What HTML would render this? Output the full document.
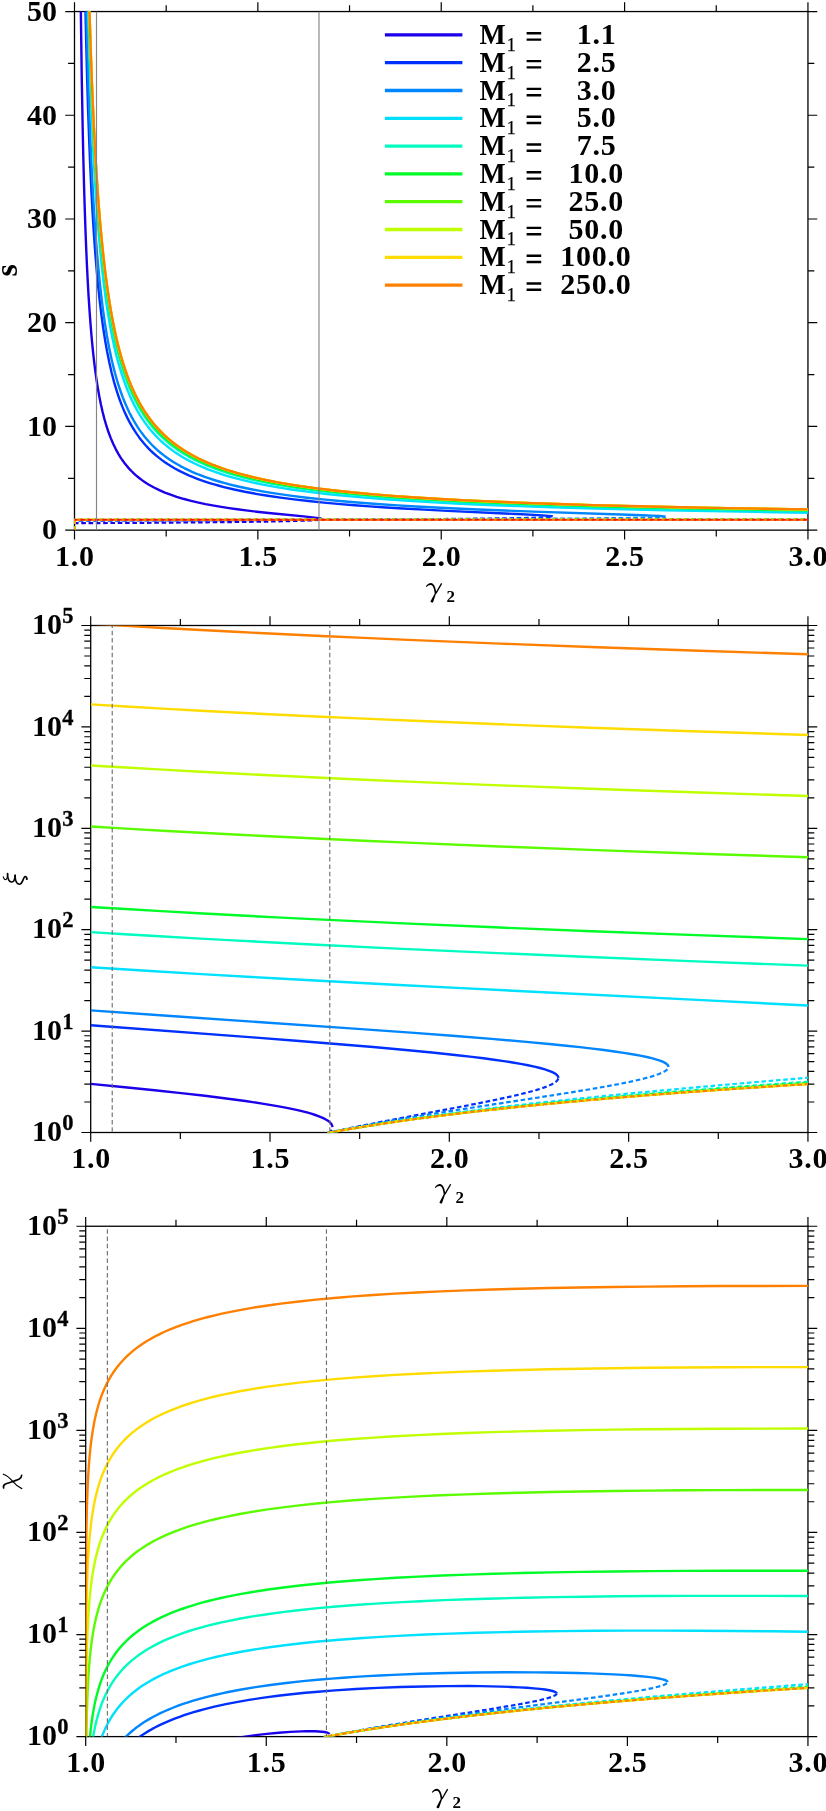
<!DOCTYPE html>
<html><head><meta charset="utf-8"><title>Shock jump conditions</title>
<style>html,body{margin:0;padding:0;background:#fff}svg{display:block;will-change:transform}text{white-space:pre}</style></head>
<body>
<svg width="826" height="1811" viewBox="0 0 826 1811">
<rect width="826" height="1811" fill="#fff"/>
<defs>
<clipPath id="c1"><rect x="74.5" y="11.55" width="733.45" height="518.6"/></clipPath>
<clipPath id="c2"><rect x="90.7" y="625.5" width="717.25" height="507"/></clipPath>
<clipPath id="c3"><rect x="85.7" y="1226.25" width="722.25" height="510.35"/></clipPath>
</defs>
<rect x="74.5" y="11.55" width="733.45" height="518.6" fill="none" stroke="#000" stroke-width="1.3"/>
<rect x="90.7" y="625.5" width="717.25" height="507" fill="none" stroke="#000" stroke-width="1.3"/>
<rect x="85.7" y="1226.25" width="722.25" height="510.35" fill="none" stroke="#000" stroke-width="1.3"/>
<g clip-path="url(#c1)" fill="none" stroke-linejoin="round">
<path d="M74.5,-388.45 L78.06,-388.45 L78.63,-263.16 L79.25,-160.15 L79.97,-69.82 L80.77,6.28 L81.71,74.86 L82.8,134 L83.4,160.78 L84.06,186.24 L84.75,209.11 L85.5,230.82 L86.19,248.39 L86.94,265.33 L87.76,281.57 L88.6,296.32 L89.52,310.45 L90.51,323.91 L91.52,336.13 L92.62,347.77 L93.8,358.82 L95.02,368.86 L96.38,378.77 L97.77,387.76 L99.27,396.25 L100.87,404.26 L102.57,411.79 L104.38,418.86 L106.37,425.71 L108.54,432.29 L110.85,438.4 L113.29,444.07 L115.87,449.33 L118.66,454.35 L120.15,456.79 L121.67,459.1 L123.21,461.29 L124.84,463.48 L126.49,465.55 L128.24,467.62 L130.01,469.57 L131.89,471.51 L133.78,473.34 L135.7,475.08 L137.72,476.8 L139.85,478.5 L142.01,480.11 L144.27,481.7 L146.55,483.2 L148.94,484.68 L153.98,487.49 L159.37,490.15 L164.85,492.53 L170.59,494.73 L176.68,496.81 L183.21,498.78 L190.17,500.65 L197.54,502.41 L205.5,504.1 L213.9,505.68 L221.28,506.94 L229.05,508.14 L237.24,509.3 L245.96,510.43 L256.72,511.71 L268.63,513 L303.68,516.42 L312.27,517.32 L316.46,517.84 L319.36,518.29 L321.08,518.7 L321.5,518.89 L321.65,519.07" stroke="#1c00ea" stroke-width="2.4"/>
<path d="M74.5,530.15 L74.5,523.22 L138.66,522.84 L191.53,522.44 L234.09,522.02 L267.35,521.56 L291.84,521.05 L308.7,520.49 L314.44,520.17 L318.45,519.84 L320.86,519.47 L321.45,519.28 L321.65,519.07" stroke="#1c00ea" stroke-width="2.2" stroke-dasharray="4.6 2.7" stroke-dashoffset="0.9"/>
<path d="M74.5,-388.45 L80.64,-388.45 L81.7,-258.59 L82.74,-159.68 L83.33,-113.48 L84,-68.55 L84.7,-28.23 L85.47,10.73 L86.27,45.68 L87.16,79.29 L88.14,111.35 L89.16,140.03 L90.28,167.33 L91.44,191.79 L92.71,215.02 L94.03,235.86 L95.31,253.66 L96.72,270.73 L98.16,286.22 L99.73,301.06 L101.44,315.21 L103.2,328.03 L105.1,340.24 L107.15,351.82 L109.37,362.78 L111.65,372.7 L114.09,382.09 L115.35,386.45 L116.72,390.95 L118.12,395.22 L119.53,399.29 L120.97,403.16 L122.54,407.13 L124.13,410.9 L125.75,414.48 L127.38,417.89 L129.16,421.37 L130.97,424.67 L132.92,428.01 L134.91,431.18 L137.05,434.38 L139.21,437.4 L141.41,440.27 L143.65,442.99 L146.04,445.73 L148.47,448.32 L150.93,450.79 L153.56,453.25 L156.23,455.59 L159.08,457.92 L161.97,460.12 L164.89,462.22 L168,464.3 L171.15,466.27 L174.49,468.23 L177.87,470.09 L181.45,471.92 L185.07,473.66 L188.73,475.31 L192.6,476.94 L196.67,478.54 L200.79,480.06 L205.12,481.55 L209.67,483.02 L214.26,484.41 L219.06,485.77 L223.92,487.05 L234.28,489.54 L244.82,491.76 L255.87,493.82 L267.79,495.78 L280.57,497.65 L294.01,499.38 L308.46,501.03 L323.86,502.59 L340.33,504.08 L354.65,505.23 L369.73,506.35 L385.83,507.43 L402.97,508.48 L424.12,509.67 L447.51,510.87 L516.89,514.07 L534.02,514.92 L542.38,515.41 L548.18,515.84 L551.6,516.23 L552.45,516.41 L552.74,516.58" stroke="#0030ff" stroke-width="2.4"/>
<path d="M74.5,530.15 L74.5,520.69 L199.47,520.28 L301.51,519.86 L383.5,519.43 L447.51,518.97 L494.93,518.47 L527.59,517.92 L538.72,517.62 L546.56,517.3 L551.21,516.95 L552.36,516.77 L552.64,516.68 L552.74,516.58" stroke="#0030ff" stroke-width="2.2" stroke-dasharray="4.6 2.7" stroke-dashoffset="0.9"/>
<path d="M74.5,-388.45 L81.17,-388.45 L82.24,-262.74 L82.83,-206.97 L83.5,-152.67 L84.2,-104.23 L84.92,-60.85 L85.73,-18.76 L86.57,18.91 L87.5,55.23 L88.47,87.74 L89.55,118.92 L90.67,146.85 L91.9,173.54 L93.26,198.88 L94.67,221.53 L96.21,243 L97.72,261.22 L99.28,277.7 L100.98,293.49 L102.83,308.54 L104.85,322.81 L106.93,335.69 L109.19,347.9 L111.51,358.94 L112.76,364.3 L114.03,369.4 L115.31,374.25 L116.73,379.28 L118.18,384.05 L119.65,388.59 L121.14,392.9 L122.78,397.34 L124.45,401.54 L126.14,405.54 L127.85,409.34 L129.6,412.95 L131.5,416.64 L133.43,420.15 L135.39,423.48 L137.53,426.87 L139.69,430.08 L142.04,433.33 L144.42,436.4 L146.83,439.31 L149.44,442.25 L152.09,445.02 L154.77,447.65 L157.65,450.29 L160.58,452.78 L163.55,455.15 L166.73,457.51 L169.95,459.75 L173.39,461.98 L176.88,464.08 L180.42,466.08 L184.18,468.06 L188,469.93 L192.05,471.79 L196.15,473.55 L200.31,475.21 L204.7,476.86 L209.35,478.48 L214.05,480.01 L219.01,481.52 L224.03,482.95 L229.31,484.35 L234.85,485.72 L240.45,487.02 L246.32,488.29 L252.47,489.53 L265.15,491.84 L278.06,493.9 L292.07,495.87 L306.94,497.71 L322.67,499.42 L339.46,501.02 L357.52,502.55 L376.77,503.99 L397.62,505.36 L415.81,506.44 L435.18,507.48 L455.6,508.47 L477.52,509.44 L504.18,510.51 L533.61,511.59 L620.82,514.47 L642.05,515.22 L652.49,515.66 L659.68,516.04 L663.93,516.39 L665,516.55 L665.35,516.7" stroke="#0086ff" stroke-width="2.4"/>
<path d="M74.5,530.15 L74.5,520.43 L355.43,519.66 L456.48,519.26 L535.54,518.84 L594.09,518.4 L634.39,517.9 L648.04,517.63 L657.72,517.35 L663.47,517.04 L664.88,516.87 L665.24,516.79 L665.35,516.7" stroke="#0086ff" stroke-width="2.2" stroke-dasharray="4.6 2.7" stroke-dashoffset="0.9"/>
<path d="M74.5,-388.45 L82.13,-388.45 L83.4,-259.92 L84.11,-202.42 L84.84,-151.07 L85.68,-101.07 L86.54,-56.47 L87.43,-16.52 L88.44,22.24 L89.48,56.92 L90.64,90.36 L91.93,122.31 L93.27,150.81 L94.75,177.94 L96.29,202.17 L97.99,225.19 L99.85,246.93 L101.67,265.31 L103.55,281.88 L105.6,297.71 L107.85,312.76 L110.16,326.32 L111.41,332.92 L112.68,339.19 L113.97,345.14 L115.41,351.36 L116.75,356.72 L118.24,362.32 L119.75,367.64 L121.29,372.69 L122.85,377.49 L124.58,382.47 L126.33,387.18 L128.12,391.65 L129.93,395.89 L131.93,400.26 L133.96,404.39 L136.02,408.31 L138.11,412.03 L140.23,415.57 L142.39,418.93 L144.74,422.37 L147.14,425.63 L149.74,428.94 L152.38,432.08 L155.24,435.25 L158.15,438.25 L161.29,441.26 L164.48,444.1 L167.72,446.79 L171,449.33 L174.54,451.88 L178.12,454.29 L181.97,456.7 L185.87,458.97 L189.82,461.11 L194.05,463.25 L198.33,465.27 L202.68,467.18 L207.31,469.07 L212.22,470.94 L217.21,472.71 L222.26,474.39 L227.61,476.04 L233.27,477.66 L239,479.19 L245.05,480.7 L251.17,482.12 L257.62,483.51 L264.14,484.82 L270.99,486.11 L278.17,487.36 L285.7,488.59 L293.31,489.74 L309.28,491.92 L326.64,493.98 L345.13,495.88 L365.01,497.66 L386.26,499.32 L409.15,500.87 L433.88,502.33 L460.38,503.69 L488.77,504.96 L519.13,506.14 L551.97,507.26 L587.04,508.3 L624.84,509.28 L665.47,510.21 L709.3,511.09 L756.56,511.92 L807.95,512.73" stroke="#00e0ff" stroke-width="2.4"/>
<path d="M74.5,530.15 L74.5,520.02 L506.99,519.56 L807.95,519.12" stroke="#00e0ff" stroke-width="2.2" stroke-dasharray="4.6 2.7" stroke-dashoffset="0.9"/>
<path d="M74.5,-388.45 L82.48,-388.45 L82.54,-387.19 L83.15,-323.1 L83.85,-260.16 L84.57,-204.03 L85.33,-153.78 L86.17,-104.71 L87.06,-60.84 L88.05,-18.36 L89.07,19.61 L90.22,56.16 L91.41,88.82 L92.73,120.11 L94.1,148.09 L95.61,174.8 L97.18,198.71 L98.91,221.47 L100.8,243.01 L102.65,261.26 L104.57,277.75 L106.66,293.52 L108.93,308.55 L110.16,315.85 L111.41,322.78 L112.68,329.36 L113.97,335.61 L115.28,341.55 L116.75,347.75 L118.1,353.11 L119.61,358.72 L121.14,364.04 L122.7,369.1 L124.29,373.92 L126.04,378.91 L127.82,383.64 L129.63,388.13 L131.47,392.4 L133.49,396.79 L135.54,400.95 L137.62,404.9 L139.74,408.66 L141.89,412.22 L144.24,415.87 L146.62,419.33 L149.04,422.62 L151.67,425.96 L154.34,429.13 L157.24,432.32 L160.18,435.35 L163.35,438.39 L166.57,441.27 L169.84,443.99 L173.16,446.57 L176.72,449.15 L180.34,451.59 L184.22,454.03 L188.15,456.33 L192.14,458.51 L196.4,460.68 L200.72,462.73 L205.32,464.77 L209.98,466.69 L214.94,468.6 L219.96,470.39 L225.04,472.09 L230.43,473.77 L236.13,475.42 L241.89,476.98 L247.98,478.51 L254.14,479.96 L260.62,481.37 L267.17,482.71 L274.06,484.02 L281.28,485.3 L288.84,486.55 L296.48,487.72 L312.51,489.95 L329.93,492.05 L348.47,493.99 L368.39,495.81 L389.68,497.49 L412.59,499.07 L437.34,500.56 L463.83,501.94 L492.2,503.23 L522.51,504.42 L555.26,505.55 L590.2,506.59 L627.82,507.58 L668.2,508.49 L711.45,509.35 L758.02,510.16 L807.95,510.91" stroke="#00fcc0" stroke-width="2.4"/>
<path d="M74.5,530.15 L74.5,519.89 L807.95,519.53" stroke="#00fcc0" stroke-width="2.2" stroke-dasharray="4.6 2.7" stroke-dashoffset="0.9"/>
<path d="M74.5,-388.45 L82.66,-388.45 L83.34,-320.31 L83.98,-263.6 L84.71,-207.62 L85.46,-157.45 L86.32,-108.45 L87.21,-64.6 L88.2,-22.1 L89.23,15.9 L90.39,52.5 L91.58,85.23 L92.91,116.6 L94.29,144.67 L95.81,171.47 L97.48,196.9 L99.22,219.62 L101.12,241.14 L102.99,259.38 L104.91,275.87 L107.01,291.66 L109.3,306.7 L110.54,314.02 L111.79,320.96 L113.07,327.55 L114.36,333.82 L115.68,339.78 L117.15,346 L118.51,351.38 L120.03,357.01 L121.57,362.35 L123.28,367.88 L124.87,372.69 L126.63,377.68 L128.42,382.41 L130.24,386.91 L132.08,391.18 L134.11,395.58 L136.18,399.75 L138.27,403.71 L140.4,407.47 L142.56,411.04 L144.91,414.7 L147.31,418.17 L149.74,421.46 L152.38,424.82 L155.06,427.99 L157.97,431.2 L160.92,434.24 L164.1,437.3 L167.33,440.19 L170.62,442.92 L173.94,445.51 L177.52,448.1 L181.15,450.56 L185.04,453.01 L188.98,455.33 L192.99,457.52 L197.26,459.7 L201.59,461.77 L206.2,463.82 L210.88,465.75 L215.84,467.67 L220.88,469.48 L225.98,471.19 L231.38,472.88 L237.08,474.54 L242.86,476.11 L248.96,477.65 L255.13,479.11 L261.62,480.54 L268.19,481.89 L275.08,483.21 L282.32,484.5 L289.89,485.76 L297.53,486.94 L313.59,489.18 L331.03,491.3 L349.59,493.26 L369.52,495.09 L390.83,496.79 L413.74,498.38 L438.49,499.88 L464.98,501.27 L493.34,502.57 L523.63,503.77 L556.36,504.9 L591.25,505.95 L628.81,506.94 L668.88,507.85 L712.03,508.71 L758.31,509.51 L807.95,510.26" stroke="#00fc28" stroke-width="2.4"/>
<path d="M74.5,530.15 L74.5,519.84 L807.95,519.65" stroke="#00fc28" stroke-width="2.2" stroke-dasharray="4.6 2.7" stroke-dashoffset="0.9"/>
<path d="M74.5,-388.45 L82.78,-388.45 L82.84,-388.37 L83.47,-325.36 L84.18,-263.37 L84.91,-207.98 L85.68,-158.29 L86.54,-109.7 L87.51,-62.75 L88.51,-20.89 L89.56,16.59 L90.72,52.73 L91.93,85.09 L93.27,116.13 L94.66,143.95 L96.19,170.54 L97.88,195.78 L99.64,218.36 L101.56,239.76 L103.43,257.93 L105.37,274.36 L107.49,290.11 L109.79,305.12 L111.04,312.43 L112.3,319.36 L113.58,325.95 L114.89,332.21 L116.21,338.17 L117.69,344.39 L119.06,349.77 L120.58,355.4 L122.13,360.75 L123.85,366.29 L125.45,371.11 L127.22,376.11 L129.02,380.86 L130.85,385.36 L132.71,389.65 L134.75,394.06 L136.82,398.24 L138.92,402.22 L141.06,405.99 L143.39,409.85 L145.59,413.26 L148,416.74 L150.44,420.06 L153.09,423.43 L155.79,426.62 L158.7,429.85 L161.66,432.91 L164.86,435.98 L168.1,438.89 L171.39,441.64 L174.93,444.4 L178.52,447 L182.17,449.47 L186.07,451.93 L190.03,454.26 L194.05,456.46 L198.33,458.66 L202.68,460.73 L207.31,462.79 L212,464.74 L216.98,466.67 L222.03,468.49 L227.14,470.21 L232.56,471.91 L238.04,473.52 L243.83,475.1 L249.94,476.66 L256.12,478.13 L262.63,479.57 L269.2,480.93 L276.11,482.27 L283.35,483.57 L290.94,484.84 L298.6,486.04 L314.67,488.3 L332.13,490.44 L350.7,492.42 L370.65,494.27 L391.97,495.99 L414.89,497.6 L439.64,499.11 L465.84,500.5 L494.19,501.81 L524.47,503.02 L557.18,504.17 L592.04,505.23 L629.31,506.21 L669.33,507.13 L712.42,507.99 L758.46,508.8 L807.95,509.55" stroke="#5cfc00" stroke-width="2.4"/>
<path d="M74.5,530.15 L74.5,519.79 L807.95,519.76" stroke="#5cfc00" stroke-width="2.2" stroke-dasharray="4.6 2.7" stroke-dashoffset="0.9"/>
<path d="M74.5,-388.45 L82.84,-388.45 L83.59,-316 L84.24,-260.37 L84.98,-205.37 L85.75,-156.02 L86.61,-107.74 L87.51,-64.48 L88.51,-22.5 L89.56,15.09 L90.72,51.33 L91.93,83.78 L93.27,114.92 L94.75,144.57 L96.29,171.05 L97.99,196.2 L99.74,218.7 L101.67,240.03 L103.55,258.14 L105.49,274.52 L107.61,290.23 L109.92,305.2 L111.16,312.49 L112.43,319.41 L113.71,325.98 L115.02,332.23 L116.34,338.17 L117.83,344.38 L119.2,349.76 L120.72,355.38 L122.28,360.72 L124,366.25 L125.6,371.06 L127.37,376.05 L129.17,380.79 L131,385.29 L132.86,389.57 L134.9,393.98 L136.98,398.16 L139.09,402.12 L141.22,405.89 L143.56,409.75 L145.77,413.15 L148.17,416.64 L150.61,419.95 L153.27,423.31 L155.97,426.51 L158.89,429.73 L161.85,432.79 L165.05,435.86 L168.29,438.77 L171.59,441.52 L175.13,444.27 L178.73,446.88 L182.37,449.34 L186.28,451.8 L190.24,454.13 L194.26,456.34 L198.55,458.53 L202.9,460.61 L207.53,462.67 L212.22,464.61 L217.21,466.54 L222.26,468.36 L227.38,470.08 L232.79,471.79 L238.28,473.39 L244.08,474.98 L250.19,476.54 L256.37,478.01 L262.88,479.45 L269.46,480.81 L276.37,482.15 L283.62,483.45 L291.2,484.73 L298.86,485.92 L314.94,488.19 L332.41,490.33 L350.98,492.31 L370.94,494.16 L392.25,495.88 L415.18,497.49 L439.93,499 L466.13,500.39 L494.48,501.7 L524.76,502.92 L557.45,504.06 L592.31,505.12 L629.56,506.11 L669.55,507.03 L712.61,507.89 L758.6,508.69 L807.95,509.44" stroke="#c0ff00" stroke-width="2.4"/>
<path d="M74.5,530.15 L74.5,519.78 L807.95,519.77" stroke="#c0ff00" stroke-width="2.2" stroke-dasharray="4.6 2.7" stroke-dashoffset="0.9"/>
<path d="M74.5,-388.45 L82.84,-388.45 L84.24,-260.94 L84.98,-205.91 L85.75,-156.52 L86.61,-108.2 L87.51,-64.91 L88.51,-22.9 L89.56,14.71 L90.72,50.98 L91.93,83.46 L93.27,114.62 L94.75,144.29 L96.29,170.79 L97.99,195.95 L99.74,218.47 L101.67,239.82 L103.55,257.94 L105.49,274.33 L107.61,290.05 L109.92,305.03 L111.16,312.33 L112.43,319.25 L113.71,325.83 L115.02,332.08 L116.34,338.03 L117.83,344.25 L119.2,349.62 L120.72,355.24 L122.28,360.59 L124,366.12 L125.6,370.94 L127.37,375.93 L129.17,380.68 L131,385.18 L132.86,389.46 L134.9,393.87 L136.98,398.05 L139.09,402.03 L141.22,405.8 L143.56,409.66 L145.77,413.06 L148.17,416.55 L150.61,419.86 L153.27,423.23 L155.97,426.43 L158.89,429.65 L161.85,432.71 L165.05,435.79 L168.29,438.7 L171.59,441.45 L175.13,444.2 L178.73,446.81 L182.37,449.28 L186.28,451.74 L190.24,454.07 L194.26,456.28 L198.55,458.47 L202.9,460.55 L207.53,462.61 L212.22,464.56 L217.21,466.49 L222.26,468.31 L227.38,470.03 L232.79,471.74 L238.28,473.35 L244.08,474.93 L250.19,476.49 L256.37,477.96 L262.88,479.41 L269.46,480.77 L276.37,482.11 L283.62,483.41 L291.2,484.69 L298.86,485.88 L314.94,488.15 L332.41,490.29 L350.98,492.27 L370.94,494.13 L392.25,495.85 L415.18,497.46 L439.93,498.97 L466.13,500.36 L494.48,501.67 L524.76,502.89 L557.45,504.04 L592.31,505.1 L629.56,506.08 L669.55,507 L712.61,507.87 L758.6,508.67 L807.95,509.41" stroke="#ffdc00" stroke-width="2.4"/>
<path d="M74.5,530.15 L74.5,519.78 L807.95,519.78" stroke="#ffdc00" stroke-width="2.2" stroke-dasharray="4.6 2.7" stroke-dashoffset="0.9"/>
<path d="M74.5,-388.45 L82.84,-388.45 L84.24,-261.1 L84.98,-206.06 L85.75,-156.66 L86.61,-108.33 L87.51,-65.03 L88.51,-23.01 L89.56,14.61 L90.72,50.89 L91.93,83.37 L93.27,114.53 L94.75,144.21 L96.29,170.71 L97.99,195.88 L99.74,218.4 L101.67,239.76 L103.55,257.88 L105.49,274.28 L107.61,290 L109.92,304.98 L111.16,312.28 L112.43,319.2 L113.71,325.78 L115.02,332.04 L116.34,337.99 L117.83,344.21 L119.2,349.58 L120.72,355.21 L122.28,360.55 L124,366.09 L125.6,370.91 L127.37,375.9 L129.17,380.64 L131,385.15 L132.86,389.43 L134.9,393.84 L136.98,398.03 L139.09,402 L141.22,405.77 L143.56,409.63 L145.77,413.04 L148.17,416.52 L150.61,419.84 L153.27,423.21 L155.97,426.4 L158.89,429.63 L161.85,432.69 L165.05,435.77 L168.29,438.67 L171.59,441.43 L175.13,444.19 L178.73,446.79 L182.37,449.26 L186.28,451.72 L190.24,454.05 L194.26,456.26 L198.55,458.46 L202.9,460.53 L207.53,462.6 L212.22,464.55 L217.21,466.47 L222.26,468.3 L227.38,470.02 L232.79,471.72 L238.28,473.33 L244.08,474.92 L250.19,476.48 L256.37,477.95 L262.88,479.4 L269.46,480.76 L276.37,482.1 L283.62,483.4 L291.2,484.67 L298.86,485.87 L314.94,488.14 L332.41,490.28 L350.98,492.26 L370.94,494.12 L392.25,495.84 L415.18,497.45 L439.93,498.96 L466.13,500.35 L494.48,501.67 L524.76,502.88 L557.45,504.03 L592.31,505.09 L629.56,506.07 L669.55,507 L712.61,507.86 L758.6,508.66 L807.95,509.41" stroke="#ff8000" stroke-width="2.4"/>
<path d="M74.5,530.15 L74.5,519.78 L807.95,519.78" stroke="#ff8000" stroke-width="2.2" stroke-dasharray="4.6 2.7" stroke-dashoffset="0.9"/>
<path d="M74.5,519.78 H807.95" stroke="#ff1400" stroke-width="2" stroke-dasharray="4.6 2.7" stroke-dashoffset="1.3"/>
<line x1="96.5" y1="11.55" x2="96.5" y2="530.15" stroke="#858585" stroke-width="1.15"/>
<line x1="318.98" y1="11.55" x2="318.98" y2="530.15" stroke="#858585" stroke-width="1.15"/>
</g>
<g clip-path="url(#c2)" fill="none" stroke-linejoin="round">
<path d="M90.7,1083.88 L124.85,1087.2 L154.61,1090.22 L181.16,1093.08 L204.86,1095.8 L226.18,1098.44 L245.31,1101.03 L262.28,1103.57 L277.31,1106.09 L284.15,1107.36 L290.51,1108.63 L296.37,1109.89 L301.8,1111.17 L306.78,1112.45 L311.27,1113.72 L315.31,1115 L318.95,1116.31 L322.1,1117.6 L324.85,1118.92 L327.15,1120.25 L329.05,1121.6 L330.5,1122.96 L331.09,1123.66 L331.55,1124.34 L331.92,1125.05 L332.18,1125.75 L332.34,1126.48 L332.39,1127.19" stroke="#1c00ea" stroke-width="2.4"/>
<path d="M332.39,1127.19 L332.31,1128.1 L332.05,1129.05 L331.63,1130.01 L331.03,1130.98 L330.26,1131.97 L329.33,1132.96 L328.23,1133.98 L326.93,1135.02" stroke="#1c00ea" stroke-width="2.2" stroke-dasharray="4.6 2.7" stroke-dashoffset="4.6"/>
<path d="M90.7,1025.27 L256.2,1037.65 L299.33,1040.98 L336.2,1043.93 L373.14,1047.03 L405.75,1049.97 L434.39,1052.75 L459.7,1055.46 L471.99,1056.88 L483.5,1058.31 L494.08,1059.71 L503.75,1061.1 L512.61,1062.48 L520.66,1063.86 L527.91,1065.24 L534.36,1066.62 L540,1067.99 L544.91,1069.38 L549.03,1070.77 L552.42,1072.17 L553.81,1072.87 L555.02,1073.58 L556.04,1074.28 L556.88,1075 L557.53,1075.71 L558,1076.44 L558.28,1077.16 L558.37,1077.9" stroke="#0030ff" stroke-width="2.4"/>
<path d="M327.02,1133.11 L338.95,1130.51 L351.39,1127.89 L378.69,1122.38 L405.06,1117.28 L460.6,1106.77 L482.96,1102.41 L502.2,1098.42 L510.4,1096.61 L517.92,1094.87 L527.64,1092.44 L535.95,1090.13 L542.88,1087.92 L545.82,1086.86 L548.46,1085.81 L550.79,1084.77 L552.82,1083.75 L554.53,1082.73 L555.91,1081.75 L557,1080.76 L557.76,1079.79 L558.22,1078.84 L558.37,1077.9" stroke="#0030ff" stroke-width="2.2" stroke-dasharray="4.6 2.7" stroke-dashoffset="6.3"/>
<path d="M90.7,1010.4 L170.76,1016.03 L343.27,1027.84 L414.36,1032.9 L455.53,1036 L491.55,1038.87 L523.46,1041.61 L551.74,1044.25 L566.32,1045.72 L579.96,1047.18 L592.48,1048.62 L603.9,1050.03 L614.37,1051.44 L623.87,1052.84 L632.42,1054.23 L640.12,1055.64 L646.85,1057.04 L652.62,1058.43 L657.47,1059.82 L661.44,1061.22 L663.13,1061.94 L664.54,1062.64 L665.75,1063.34 L666.73,1064.05 L667.52,1064.78 L668.07,1065.5 L668.39,1066.22 L668.5,1066.95" stroke="#0086ff" stroke-width="2.4"/>
<path d="M327.13,1133.05 L346.2,1129.19 L366.56,1125.3 L388.34,1121.36 L411.88,1117.31 L434.75,1113.55 L460.12,1109.51 L542.31,1096.89 L569.76,1092.58 L584.01,1090.25 L596.58,1088.12 L607.85,1086.12 L618.01,1084.21 L630.19,1081.74 L640.51,1079.41 L645,1078.29 L649.12,1077.18 L652.85,1076.08 L656.12,1075.02 L659.02,1073.97 L661.54,1072.93 L663.68,1071.9 L665.43,1070.89 L666.78,1069.88 L667.73,1068.9 L668.08,1068.39 L668.32,1067.91 L668.46,1067.43 L668.5,1066.95" stroke="#0086ff" stroke-width="2.2" stroke-dasharray="4.6 2.7" stroke-dashoffset="0.8"/>
<path d="M90.7,967.21 L146.41,970.76 L205.74,974.33 L269.28,977.96 L338.35,981.73 L394.46,984.69 L456.51,987.87 L707.4,1000.38 L807.95,1005.55" stroke="#00e0ff" stroke-width="2.4"/>
<path d="M327.16,1133.01 L346.68,1129.36 L367.09,1125.82 L388.9,1122.29 L411.78,1118.82 L435.67,1115.44 L461.02,1112.07 L487.71,1108.72 L515.57,1105.43 L544.66,1102.17 L575.2,1098.92 L607.52,1095.65 L641.65,1092.34 L677.64,1088.99 L716.42,1085.52 L758.7,1081.86 L807.95,1077.7" stroke="#00e0ff" stroke-width="2.2" stroke-dasharray="4.6 2.7" stroke-dashoffset="0.5"/>
<path d="M90.7,932.08 L124.61,934.18 L159.73,936.27 L195.99,938.34 L233.39,940.4 L312.19,944.49 L396.69,948.58 L486.59,952.66 L583.86,956.81 L689.79,961.09 L807.95,965.65" stroke="#00fcc0" stroke-width="2.4"/>
<path d="M327.16,1133 L347.49,1129.29 L368.74,1125.72 L391.13,1122.23 L414.87,1118.79 L439.61,1115.45 L465.8,1112.15 L493.31,1108.92 L522.21,1105.73 L552.51,1102.6 L584.12,1099.53 L617.3,1096.49 L651.99,1093.48 L688.33,1090.51 L726.33,1087.56 L766.25,1084.62 L807.95,1081.69" stroke="#00fcc0" stroke-width="2.2" stroke-dasharray="4.6 2.7" stroke-dashoffset="2.5"/>
<path d="M90.7,906.94 L125.45,909.06 L161.4,911.17 L198.6,913.25 L237.01,915.31 L276.64,917.35 L317.67,919.38 L403.39,923.37 L494.7,927.32 L592.17,931.25 L696.41,935.17 L807.95,939.12" stroke="#00fc28" stroke-width="2.4"/>
<path d="M327.16,1132.99 L347.49,1129.32 L369.02,1125.73 L391.68,1122.24 L415.43,1118.84 L440.45,1115.52 L466.65,1112.28 L494.43,1109.08 L523.31,1105.96 L553.59,1102.9 L585.43,1099.89 L618.54,1096.94 L653.39,1094.02 L689.59,1091.16 L727.4,1088.35 L766.77,1085.57 L807.95,1082.82" stroke="#00fc28" stroke-width="2.2" stroke-dasharray="4.6 2.7" stroke-dashoffset="4.25"/>
<path d="M90.7,826.46 L126.18,828.59 L162.75,830.69 L200.62,832.76 L239.51,834.79 L279.61,836.8 L321.08,838.78 L363.81,840.74 L407.58,842.65 L499.45,846.43 L596.55,850.12 L699.45,853.72 L807.95,857.24" stroke="#5cfc00" stroke-width="2.4"/>
<path d="M327.16,1132.99 L347.49,1129.35 L369.02,1125.8 L391.68,1122.34 L415.71,1118.95 L440.73,1115.68 L467.21,1112.46 L494.98,1109.31 L523.86,1106.26 L554.4,1103.25 L586.21,1100.31 L619.54,1097.43 L654.08,1094.63 L690.21,1091.88 L727.93,1089.17 L767.16,1086.52 L807.95,1083.92" stroke="#5cfc00" stroke-width="2.2" stroke-dasharray="4.6 2.7" stroke-dashoffset="5.5"/>
<path d="M90.7,765.44 L126.18,767.57 L162.91,769.67 L200.82,771.74 L239.74,773.77 L279.86,775.76 L321.35,777.73 L364.08,779.68 L408.14,781.6 L500.01,785.35 L597.07,789 L699.65,792.56 L807.95,796.03" stroke="#c0ff00" stroke-width="2.4"/>
<path d="M327.16,1132.99 L347.49,1129.35 L369.02,1125.81 L391.68,1122.36 L415.71,1118.97 L440.73,1115.7 L467.21,1112.49 L494.98,1109.35 L523.86,1106.31 L554.4,1103.31 L586.21,1100.38 L619.54,1097.51 L654.08,1094.72 L690.21,1091.98 L727.93,1089.29 L767.16,1086.65 L807.95,1084.07" stroke="#c0ff00" stroke-width="2.2" stroke-dasharray="4.6 2.7" stroke-dashoffset="6.5"/>
<path d="M90.7,704.4 L126.18,706.53 L162.91,708.63 L200.82,710.69 L239.74,712.72 L279.86,714.71 L321.35,716.68 L364.08,718.63 L408.14,720.54 L500.01,724.29 L597.07,727.93 L699.65,731.48 L807.95,734.94" stroke="#ffdc00" stroke-width="2.4"/>
<path d="M327.16,1132.99 L347.49,1129.35 L369.02,1125.81 L391.68,1122.36 L415.71,1118.98 L440.73,1115.71 L467.21,1112.5 L494.98,1109.36 L523.86,1106.32 L554.4,1103.32 L586.21,1100.4 L619.54,1097.53 L654.08,1094.75 L690.21,1092.01 L727.93,1089.32 L767.16,1086.69 L807.95,1084.11" stroke="#ffdc00" stroke-width="2.2" stroke-dasharray="4.6 2.7" stroke-dashoffset="5.15"/>
<path d="M90.7,623.7 L126.18,625.83 L162.91,627.93 L200.82,629.99 L239.74,632.02 L279.86,634.01 L321.35,635.98 L364.08,637.92 L408.14,639.84 L500.01,643.59 L597.07,647.23 L699.65,650.77 L807.95,654.23" stroke="#ff8000" stroke-width="2.4"/>
<path d="M327.16,1132.99 L347.49,1129.35 L369.02,1125.81 L391.68,1122.36 L415.71,1118.98 L440.73,1115.71 L467.21,1112.5 L494.98,1109.37 L523.86,1106.33 L554.4,1103.33 L586.21,1100.41 L619.54,1097.54 L654.08,1094.75 L690.21,1092.01 L727.93,1089.33 L767.16,1086.7 L807.95,1084.12" stroke="#ff8000" stroke-width="2.2" stroke-dasharray="4.6 2.7" stroke-dashoffset="1.5"/>
<line x1="112.22" y1="625.5" x2="112.22" y2="1132.5" stroke="#707070" stroke-width="1.15" stroke-dasharray="4.5 2.8" stroke-dashoffset="2"/>
<line x1="329.78" y1="625.5" x2="329.78" y2="1132.5" stroke="#707070" stroke-width="1.15" stroke-dasharray="4.5 2.8" stroke-dashoffset="2"/>
</g>
<g clip-path="url(#c3)" fill="none" stroke-linejoin="round">
<path d="M85.7,2136.6 L85.85,2025.37 L86.02,1992.39 L86.29,1965.49 L86.7,1942.15 L87.26,1922.42 L88.02,1904.92 L88.47,1897.18 L88.98,1889.79 L89.6,1882.17 L90.3,1874.93 L91.09,1868.04 L91.96,1861.47 L92.93,1855.19 L93.97,1849.37 L95.12,1843.76 L96.37,1838.37 L97.74,1833.19 L99.19,1828.33 L100.81,1823.5 L102.51,1818.98 L104.35,1814.6 L106.33,1810.37 L108.45,1806.29 L110.67,1802.43 L113.58,1797.9 L116.7,1793.58 L120.09,1789.39 L123.69,1785.4 L127.51,1781.61 L131.63,1777.95 L135.96,1774.47 L140.53,1771.17 L145.39,1767.98 L150.56,1764.92 L156.04,1761.98 L161.83,1759.17 L167.83,1756.53 L174.21,1753.98 L180.88,1751.56 L187.92,1749.25 L196.46,1746.73 L205.33,1744.39 L214.7,1742.2 L224.4,1740.19 L234.55,1738.34 L245.05,1736.66 L255.77,1735.18 L266.73,1733.9 L278.73,1732.75 L290.39,1731.91 L301.32,1731.4 L306.32,1731.28 L310.93,1731.26 L315.06,1731.32 L318.71,1731.47 L321.84,1731.71 L324.45,1732.04 L326.46,1732.45 L327.91,1732.94 L328.42,1733.22 L328.78,1733.51 L329,1733.83 L329.07,1734.16" stroke="#1c00ea" stroke-width="2.4"/>
<path d="M329.07,1734.16 L328.99,1734.54 L328.73,1734.96 L328.31,1735.39 L327.71,1735.85 L325.99,1736.84 L323.58,1737.93" stroke="#1c00ea" stroke-width="2.2" stroke-dasharray="4.6 2.7" stroke-dashoffset="4.6"/>
<path d="M85.7,2136.6 L85.74,2047.61 L85.84,1992.97 L86.05,1953.78 L86.4,1922.96 L86.66,1908.88 L86.97,1896.74 L87.36,1884.91 L87.8,1874.49 L88.32,1864.72 L88.93,1855.53 L89.64,1846.86 L90.41,1838.99 L91.42,1830.54 L92.56,1822.59 L93.86,1815.07 L95.27,1808.2 L96.89,1801.43 L98.65,1795.19 L100.59,1789.23 L102.73,1783.54 L105.08,1778.08 L107.58,1773.01 L110.38,1768 L113.35,1763.33 L116.56,1758.83 L119.94,1754.63 L123.68,1750.48 L127.59,1746.59 L130.26,1744.17 L133,1741.84 L135.82,1739.61 L138.83,1737.38 L141.91,1735.24 L145.06,1733.18 L148.42,1731.13 L151.85,1729.17 L155.36,1727.28 L159.08,1725.4 L162.87,1723.6 L166.88,1721.81 L170.98,1720.1 L175.29,1718.4 L179.69,1716.77 L184.16,1715.21 L188.87,1713.67 L193.65,1712.2 L198.66,1710.74 L203.76,1709.35 L214.49,1706.68 L225.85,1704.18 L237.83,1701.85 L250.59,1699.67 L263.94,1697.65 L278.04,1695.79 L286.79,1694.75 L295.97,1693.75 L305.37,1692.81 L314.97,1691.94 L334.94,1690.35 L355.91,1689 L377.86,1687.88 L400.34,1687.02 L423.2,1686.43 L446.04,1686.1 L469.22,1686.07 L480.29,1686.17 L491,1686.35 L501.03,1686.6 L510.44,1686.93 L519.06,1687.33 L526.96,1687.8 L533.9,1688.33 L539.89,1688.91 L544.99,1689.55 L549.19,1690.24 L552.46,1691 L553.73,1691.39 L554.78,1691.8 L555.59,1692.22 L556.17,1692.65 L556.52,1693.09 L556.63,1693.55" stroke="#0030ff" stroke-width="2.4"/>
<path d="M323.67,1737.15 L338.08,1734.34 L353.35,1731.49 L369.38,1728.63 L386.43,1725.7 L420.86,1720.07 L493.8,1708.59 L510.66,1705.79 L524.11,1703.38 L531.96,1701.86 L538.63,1700.44 L544.17,1699.12 L548.67,1697.88 L552.18,1696.69 L553.56,1696.13 L554.66,1695.59 L555.54,1695.05 L556.15,1694.53 L556.51,1694.04 L556.63,1693.55" stroke="#0030ff" stroke-width="2.2" stroke-dasharray="4.6 2.7" stroke-dashoffset="0"/>
<path d="M85.7,2136.6 L85.74,2038.82 L85.85,1980.53 L86.07,1939.56 L86.45,1908.63 L86.73,1894.37 L87.08,1881.39 L87.51,1869.47 L88.03,1858.43 L88.64,1848.15 L89.32,1838.97 L90.12,1830.29 L90.99,1822.41 L92.18,1813.58 L93.48,1805.59 L95.02,1797.78 L96.69,1790.66 L98.57,1783.9 L100.66,1777.47 L101.77,1774.45 L102.99,1771.35 L104.17,1768.56 L105.47,1765.7 L106.82,1762.94 L108.21,1760.28 L109.64,1757.72 L111.21,1755.1 L112.82,1752.57 L114.48,1750.13 L116.19,1747.78 L118.05,1745.37 L119.96,1743.06 L121.93,1740.82 L123.94,1738.66 L126,1736.57 L128.12,1734.55 L130.4,1732.49 L132.74,1730.51 L135.14,1728.58 L138.37,1726.15 L141.69,1723.82 L145.11,1721.59 L148.76,1719.37 L152.5,1717.25 L156.33,1715.21 L160.41,1713.19 L164.59,1711.25 L169.02,1709.32 L173.55,1707.49 L178.18,1705.73 L183.08,1703.99 L188.08,1702.32 L193.35,1700.68 L198.73,1699.11 L204.2,1697.61 L209.96,1696.14 L215.81,1694.73 L221.96,1693.35 L228.2,1692.04 L234.74,1690.75 L241.37,1689.52 L255.52,1687.16 L270.46,1684.99 L286.16,1683.01 L302.81,1681.18 L320.41,1679.52 L331.66,1678.58 L343.21,1677.71 L355.04,1676.91 L367.36,1676.16 L379.93,1675.48 L392.95,1674.86 L419.77,1673.81 L447.99,1673.02 L476.8,1672.52 L505.96,1672.3 L534.94,1672.37 L549.4,1672.51 L563.41,1672.74 L576.88,1673.03 L589.74,1673.4 L601.76,1673.83 L613.02,1674.33 L623.32,1674.89 L632.62,1675.51 L640.8,1676.18 L647.84,1676.89 L653.85,1677.65 L658.78,1678.45 L662.63,1679.31 L664.13,1679.75 L665.35,1680.2 L666.3,1680.67 L666.99,1681.14 L667.4,1681.63 L667.53,1682.13" stroke="#0086ff" stroke-width="2.4"/>
<path d="M323.78,1737.12 L334.83,1735.01 L346.39,1732.88 L370.79,1728.64 L396.83,1724.44 L425.18,1720.15 L451.53,1716.39 L480.65,1712.42 L508.82,1708.7 L567.24,1701.12 L590.67,1698 L611.54,1695.07 L628.27,1692.53 L637.65,1690.97 L645.73,1689.49 L652.43,1688.1 L657.87,1686.79 L662.12,1685.54 L663.77,1684.94 L665.12,1684.35 L666.17,1683.77 L666.93,1683.21 L667.38,1682.66 L667.53,1682.13" stroke="#0086ff" stroke-width="2.2" stroke-dasharray="4.6 2.7" stroke-dashoffset="0"/>
<path d="M85.7,2107.32 L85.74,2001.04 L85.85,1942.73 L86.09,1899.65 L86.51,1867.56 L86.84,1852.37 L87.23,1839.43 L87.7,1827.49 L88.28,1816.42 L88.96,1806.08 L89.72,1796.86 L90.61,1788.12 L91.63,1779.82 L92.98,1770.91 L94.47,1762.86 L95.29,1758.97 L96.22,1754.98 L98.14,1747.81 L99.19,1744.33 L100.29,1741 L101.43,1737.8 L102.69,1734.52 L104.01,1731.38 L105.37,1728.36 L106.78,1725.46 L108.33,1722.49 L109.94,1719.64 L111.6,1716.9 L113.31,1714.26 L115.08,1711.72 L116.9,1709.28 L118.89,1706.77 L120.94,1704.36 L123.05,1702.03 L125.21,1699.78 L127.57,1697.49 L129.85,1695.41 L132.33,1693.27 L134.87,1691.21 L137.47,1689.23 L140.14,1687.31 L143.02,1685.35 L146.44,1683.17 L150.11,1680.99 L153.87,1678.9 L157.74,1676.89 L161.69,1674.96 L165.92,1673.03 L170.25,1671.19 L174.86,1669.34 L179.58,1667.58 L184.4,1665.88 L189.33,1664.26 L194.55,1662.65 L199.88,1661.1 L205.31,1659.62 L211.06,1658.15 L216.92,1656.75 L223.1,1655.36 L229.39,1654.03 L242.51,1651.52 L256.53,1649.15 L271.2,1646.98 L286.77,1644.95 L303.5,1643.04 L321.14,1641.29 L339.67,1639.69 L359.61,1638.2 L380.4,1636.86 L402.54,1635.65 L425.99,1634.57 L450.66,1633.62 L476.44,1632.8 L503.75,1632.12 L532.39,1631.56 L562.62,1631.13 L594.3,1630.82 L627.39,1630.66 L661.54,1630.62 L697.06,1630.72 L733.52,1630.95 L770.61,1631.32 L807.95,1631.81" stroke="#00e0ff" stroke-width="2.4"/>
<path d="M323.8,1737.1 L343.74,1733.47 L364.57,1729.96 L386.54,1726.51 L409.87,1723.1 L434.2,1719.78 L460.02,1716.49 L487.17,1713.24 L515.49,1710.05 L545.01,1706.91 L576.23,1703.77 L608.91,1700.66 L643.59,1697.51 L680,1694.36 L718.98,1691.13 L761.05,1687.77 L807.95,1684.15" stroke="#00e0ff" stroke-width="2.2" stroke-dasharray="4.6 2.7" stroke-dashoffset="4.2"/>
<path d="M85.7,2074.09 L85.74,1967.81 L85.85,1909.51 L86.09,1866.43 L86.51,1834.33 L86.84,1819.14 L87.23,1806.2 L87.7,1794.26 L88.28,1783.19 L88.96,1772.86 L89.72,1763.63 L90.61,1754.89 L91.63,1746.6 L92.98,1737.68 L94.47,1729.64 L95.29,1725.75 L96.22,1721.76 L98.14,1714.58 L99.19,1711.1 L100.29,1707.77 L101.43,1704.57 L102.69,1701.29 L104.01,1698.15 L105.37,1695.13 L106.78,1692.24 L108.33,1689.27 L109.84,1686.59 L111.49,1683.84 L113.21,1681.2 L114.97,1678.65 L116.79,1676.2 L118.77,1673.68 L120.82,1671.26 L122.92,1668.93 L125.08,1666.68 L127.43,1664.39 L129.71,1662.29 L132.19,1660.15 L134.73,1658.09 L137.33,1656.1 L139.99,1654.18 L142.86,1652.22 L146.28,1650.03 L149.78,1647.94 L153.54,1645.83 L157.4,1643.82 L161.35,1641.88 L165.57,1639.95 L169.89,1638.09 L174.31,1636.31 L178.82,1634.6 L183.63,1632.89 L188.53,1631.26 L193.54,1629.69 L198.85,1628.13 L204.26,1626.63 L209.78,1625.2 L215.61,1623.77 L221.54,1622.41 L227.81,1621.07 L240.65,1618.55 L254.36,1616.18 L268.97,1613.95 L284.23,1611.9 L300.64,1609.97 L317.95,1608.18 L336.15,1606.53 L355.49,1605.01 L375.94,1603.61 L397.48,1602.34 L420.04,1601.2 L443.85,1600.17 L469.08,1599.25 L495.61,1598.45 L523.54,1597.76 L553.17,1597.17 L584.14,1596.69 L616.97,1596.32 L651.38,1596.05 L687.71,1595.89 L725.76,1595.83 L765.82,1595.88 L807.95,1596.03" stroke="#00fcc0" stroke-width="2.4"/>
<path d="M323.8,1737.09 L344.28,1733.41 L365.68,1729.85 L388.22,1726.38 L412.13,1722.97 L437.32,1719.62 L463.7,1716.36 L491.4,1713.17 L520.49,1710.02 L551,1706.94 L582.82,1703.91 L616.22,1700.93 L651.14,1697.99 L687.71,1695.08 L725.94,1692.2 L765.95,1689.34 L807.95,1686.5" stroke="#00fcc0" stroke-width="2.2" stroke-dasharray="4.6 2.7" stroke-dashoffset="5"/>
<path d="M85.7,2049.58 L85.74,1943.3 L85.85,1884.99 L86.08,1843.42 L86.49,1810.86 L86.82,1795.51 L87.2,1782.44 L87.67,1770.41 L88.24,1759.26 L88.92,1748.86 L89.68,1739.58 L90.56,1730.8 L91.58,1722.46 L92.93,1713.51 L94.4,1705.43 L95.23,1701.53 L96.16,1697.52 L98.06,1690.32 L99.12,1686.83 L100.21,1683.49 L101.34,1680.29 L102.61,1677 L103.92,1673.84 L105.28,1670.82 L106.68,1667.91 L108.23,1664.94 L109.74,1662.25 L111.39,1659.5 L113.1,1656.85 L114.86,1654.29 L116.67,1651.83 L118.65,1649.32 L120.7,1646.89 L122.8,1644.55 L124.95,1642.3 L127.3,1640 L129.58,1637.9 L132.05,1635.76 L134.58,1633.69 L137.18,1631.69 L139.84,1629.77 L142.71,1627.8 L146.12,1625.61 L149.62,1623.51 L153.38,1621.41 L157.23,1619.39 L161.17,1617.45 L165.21,1615.58 L169.52,1613.72 L173.93,1611.93 L178.44,1610.22 L183.24,1608.5 L188.14,1606.86 L193.13,1605.28 L198.44,1603.72 L203.84,1602.21 L209.35,1600.78 L215.17,1599.35 L221.1,1597.98 L227.35,1596.62 L240.18,1594.09 L253.88,1591.71 L268.23,1589.5 L283.47,1587.44 L299.87,1585.49 L316.9,1583.7 L335.07,1582.04 L354.39,1580.49 L374.55,1579.09 L395.79,1577.8 L418.34,1576.63 L442.15,1575.57 L467.1,1574.63 L493.65,1573.78 L521.6,1573.05 L551,1572.42 L582.04,1571.89 L614.72,1571.47 L649.27,1571.14 L685.8,1570.91 L724.31,1570.78 L765.02,1570.74 L807.95,1570.8" stroke="#00fc28" stroke-width="2.4"/>
<path d="M323.8,1737.09 L344.28,1733.42 L365.96,1729.83 L388.78,1726.34 L412.69,1722.95 L437.89,1719.63 L464.27,1716.4 L492.24,1713.21 L521.33,1710.11 L551.82,1707.06 L583.88,1704.06 L617.22,1701.14 L652.31,1698.24 L688.76,1695.41 L726.84,1692.61 L766.48,1689.87 L807.95,1687.15" stroke="#00fc28" stroke-width="2.2" stroke-dasharray="4.6 2.7" stroke-dashoffset="5.8"/>
<path d="M85.7,1969.44 L85.74,1863.16 L85.85,1804.86 L86.08,1763.28 L86.49,1730.72 L86.82,1715.37 L87.2,1702.3 L87.67,1690.27 L88.24,1679.12 L88.92,1668.72 L89.68,1659.45 L90.56,1650.66 L91.58,1642.32 L92.93,1633.37 L94.4,1625.29 L95.23,1621.39 L96.16,1617.38 L98.06,1610.18 L99.12,1606.69 L100.21,1603.35 L101.34,1600.15 L102.61,1596.86 L103.92,1593.71 L105.28,1590.68 L106.68,1587.78 L108.23,1584.8 L109.74,1582.11 L111.39,1579.36 L113.1,1576.71 L114.86,1574.16 L116.67,1571.7 L118.65,1569.18 L120.7,1566.75 L122.8,1564.41 L124.95,1562.16 L127.3,1559.86 L129.58,1557.76 L132.05,1555.62 L134.58,1553.55 L137.18,1551.55 L139.84,1549.63 L142.71,1547.66 L146.12,1545.47 L149.62,1543.37 L153.38,1541.26 L157.23,1539.24 L161.17,1537.3 L165.21,1535.44 L169.52,1533.57 L173.93,1531.78 L178.44,1530.07 L183.24,1528.35 L188.14,1526.71 L193.13,1525.13 L198.23,1523.62 L203.63,1522.12 L209.14,1520.67 L214.95,1519.24 L220.88,1517.87 L226.9,1516.56 L239.71,1514.01 L253.4,1511.61 L267.74,1509.4 L282.97,1507.32 L299.35,1505.35 L316.37,1503.55 L334.53,1501.87 L353.57,1500.32 L373.72,1498.9 L394.95,1497.59 L417.5,1496.39 L441.01,1495.31 L465.97,1494.34 L492.24,1493.47 L520.21,1492.7 L549.64,1492.03 L580.46,1491.46 L613.21,1490.98 L647.85,1490.59 L684.52,1490.3 L723.22,1490.09 L764.35,1489.98 L807.95,1489.95" stroke="#5cfc00" stroke-width="2.4"/>
<path d="M323.8,1737.09 L344.28,1733.43 L365.96,1729.86 L388.78,1726.39 L412.97,1722.98 L438.17,1719.68 L464.83,1716.45 L492.8,1713.29 L521.88,1710.22 L552.63,1707.2 L584.66,1704.25 L618.22,1701.35 L653.01,1698.54 L689.39,1695.77 L727.37,1693.06 L766.88,1690.4 L807.95,1687.79" stroke="#5cfc00" stroke-width="2.2" stroke-dasharray="4.6 2.7" stroke-dashoffset="6.5"/>
<path d="M85.7,1908.15 L85.74,1801.87 L85.85,1743.56 L86.08,1701.98 L86.49,1669.43 L86.82,1654.08 L87.2,1641.01 L87.67,1628.98 L88.24,1617.83 L88.92,1607.43 L89.68,1598.15 L90.56,1589.37 L91.58,1581.03 L92.93,1572.08 L94.4,1564 L95.23,1560.1 L96.16,1556.09 L98.06,1548.89 L99.12,1545.4 L100.21,1542.06 L101.34,1538.85 L102.61,1535.57 L103.92,1532.41 L105.28,1529.39 L106.68,1526.48 L108.23,1523.5 L109.74,1520.82 L111.39,1518.07 L113.1,1515.41 L114.86,1512.86 L116.67,1510.4 L118.65,1507.88 L120.7,1505.46 L122.8,1503.12 L124.95,1500.87 L127.3,1498.56 L129.58,1496.47 L132.05,1494.32 L134.58,1492.26 L137.18,1490.26 L139.84,1488.33 L142.71,1486.37 L146.12,1484.18 L149.62,1482.08 L153.38,1479.97 L157.23,1477.95 L161.17,1476.01 L165.21,1474.14 L169.52,1472.28 L173.93,1470.49 L178.44,1468.77 L183.24,1467.06 L188.14,1465.41 L193.13,1463.84 L198.23,1462.33 L203.63,1460.82 L209.14,1459.38 L214.95,1457.94 L220.88,1456.57 L226.9,1455.26 L239.71,1452.72 L253.4,1450.32 L267.74,1448.1 L282.97,1446.02 L299.35,1444.05 L316.37,1442.25 L334.53,1440.56 L353.57,1439.01 L373.72,1437.59 L394.95,1436.28 L417.21,1435.09 L440.73,1434.01 L465.68,1433.03 L491.96,1432.16 L519.94,1431.38 L549.37,1430.7 L580.19,1430.12 L612.96,1429.64 L647.62,1429.24 L684.3,1428.94 L723.04,1428.73 L764.21,1428.6 L807.95,1428.56" stroke="#c0ff00" stroke-width="2.4"/>
<path d="M323.8,1737.09 L344.28,1733.43 L365.96,1729.86 L388.78,1726.39 L412.97,1722.99 L438.17,1719.7 L464.83,1716.46 L492.8,1713.31 L521.88,1710.25 L552.63,1707.23 L584.66,1704.28 L618.22,1701.4 L653.01,1698.59 L689.39,1695.83 L727.37,1693.12 L766.88,1690.47 L807.95,1687.87" stroke="#c0ff00" stroke-width="2.2" stroke-dasharray="4.6 2.7" stroke-dashoffset="2"/>
<path d="M85.7,1846.74 L85.74,1740.46 L85.85,1682.15 L86.08,1640.57 L86.49,1608.02 L86.82,1592.67 L87.2,1579.6 L87.67,1567.57 L88.24,1556.41 L88.92,1546.02 L89.68,1536.74 L90.56,1527.96 L91.58,1519.62 L92.93,1510.67 L94.4,1502.59 L95.23,1498.68 L96.16,1494.68 L98.06,1487.48 L99.12,1483.99 L100.21,1480.65 L101.34,1477.44 L102.61,1474.15 L103.92,1471 L105.28,1467.98 L106.68,1465.07 L108.23,1462.09 L109.74,1459.41 L111.39,1456.65 L113.1,1454 L114.86,1451.45 L116.67,1448.99 L118.65,1446.47 L120.7,1444.05 L122.8,1441.71 L124.95,1439.45 L127.3,1437.15 L129.58,1435.05 L132.05,1432.91 L134.58,1430.84 L137.18,1428.85 L139.84,1426.92 L142.71,1424.95 L146.12,1422.77 L149.62,1420.66 L153.38,1418.56 L157.23,1416.53 L161.17,1414.59 L165.21,1412.73 L169.52,1410.87 L173.93,1409.08 L178.44,1407.36 L183.24,1405.64 L188.14,1404 L193.13,1402.42 L198.23,1400.91 L203.63,1399.41 L209.14,1397.96 L214.95,1396.53 L220.88,1395.16 L226.9,1393.85 L239.71,1391.3 L253.4,1388.9 L267.74,1386.68 L282.97,1384.6 L299.09,1382.66 L316.1,1380.86 L334.26,1379.17 L353.29,1377.62 L373.44,1376.19 L394.67,1374.88 L416.93,1373.69 L440.73,1372.59 L465.68,1371.61 L491.96,1370.74 L519.94,1369.96 L549.37,1369.28 L580.19,1368.7 L612.96,1368.21 L647.62,1367.82 L684.3,1367.51 L723.04,1367.29 L764.21,1367.17 L807.95,1367.12" stroke="#ffdc00" stroke-width="2.4"/>
<path d="M323.8,1737.09 L344.28,1733.43 L365.96,1729.86 L388.78,1726.39 L412.97,1722.99 L438.17,1719.7 L464.83,1716.47 L492.8,1713.31 L521.88,1710.25 L552.63,1707.23 L584.66,1704.29 L618.22,1701.41 L653.01,1698.6 L689.39,1695.84 L727.37,1693.14 L766.88,1690.49 L807.95,1687.89" stroke="#ffdc00" stroke-width="2.2" stroke-dasharray="4.6 2.7" stroke-dashoffset="6.95"/>
<path d="M85.7,1765.51 L85.74,1659.23 L85.85,1600.93 L86.08,1559.35 L86.49,1526.79 L86.82,1511.44 L87.2,1498.37 L87.67,1486.34 L88.24,1475.19 L88.92,1464.79 L89.68,1455.52 L90.56,1446.73 L91.58,1438.39 L92.93,1429.44 L94.4,1421.36 L95.23,1417.46 L96.16,1413.45 L98.06,1406.25 L99.12,1402.76 L100.21,1399.42 L101.34,1396.22 L102.61,1392.93 L103.92,1389.78 L105.28,1386.75 L106.68,1383.85 L108.23,1380.87 L109.74,1378.18 L111.39,1375.43 L113.1,1372.78 L114.86,1370.23 L116.67,1367.77 L118.65,1365.25 L120.7,1362.82 L122.8,1360.48 L124.95,1358.23 L127.3,1355.93 L129.58,1353.83 L132.05,1351.69 L134.58,1349.62 L137.18,1347.62 L139.84,1345.69 L142.71,1343.73 L146.12,1341.54 L149.62,1339.44 L153.38,1337.33 L157.23,1335.31 L161.17,1333.37 L165.21,1331.51 L169.52,1329.64 L173.93,1327.85 L178.44,1326.14 L183.24,1324.42 L188.14,1322.78 L193.13,1321.2 L198.23,1319.69 L203.63,1318.18 L209.14,1316.74 L214.95,1315.31 L220.88,1313.93 L226.9,1312.62 L239.71,1310.08 L253.4,1307.68 L267.74,1305.46 L282.97,1303.38 L299.09,1301.44 L316.1,1299.63 L334.26,1297.94 L353.29,1296.39 L373.44,1294.96 L394.67,1293.65 L416.93,1292.46 L440.73,1291.37 L465.68,1290.39 L491.96,1289.51 L519.94,1288.73 L549.37,1288.05 L580.19,1287.47 L612.96,1286.98 L647.62,1286.59 L684.3,1286.28 L723.04,1286.06 L764.21,1285.93 L807.95,1285.89" stroke="#ff8000" stroke-width="2.4"/>
<path d="M323.8,1737.09 L344.28,1733.43 L365.96,1729.86 L388.78,1726.39 L412.97,1722.99 L438.17,1719.7 L464.83,1716.47 L492.8,1713.31 L521.88,1710.26 L552.63,1707.24 L584.66,1704.29 L618.22,1701.41 L653.01,1698.6 L689.39,1695.85 L727.37,1693.14 L766.88,1690.49 L807.95,1687.9" stroke="#ff8000" stroke-width="2.2" stroke-dasharray="4.6 2.7" stroke-dashoffset="3.3"/>
<line x1="107.37" y1="1226.25" x2="107.37" y2="1736.6" stroke="#707070" stroke-width="1.15" stroke-dasharray="4.5 2.8" stroke-dashoffset="4.35"/>
<line x1="326.45" y1="1226.25" x2="326.45" y2="1736.6" stroke="#707070" stroke-width="1.15" stroke-dasharray="4.5 2.8" stroke-dashoffset="4.35"/>
</g>
<g font-family='"Liberation Serif", serif' font-weight="bold" font-size="30" fill="#000">
<path d="M74.5,530.15 v9.3 M74.5,11.55 v-9.3 M166.18,530.15 v6.4 M166.18,11.55 v-6.4 M257.86,530.15 v9.3 M257.86,11.55 v-9.3 M349.54,530.15 v6.4 M349.54,11.55 v-6.4 M441.23,530.15 v9.3 M441.23,11.55 v-9.3 M532.91,530.15 v6.4 M532.91,11.55 v-6.4 M624.59,530.15 v9.3 M624.59,11.55 v-9.3 M716.27,530.15 v6.4 M716.27,11.55 v-6.4 M807.95,530.15 v9.3 M807.95,11.55 v-9.3" stroke="#000" stroke-width="1.2" fill="none"/>
<text x="74.85" y="565.95" text-anchor="middle" letter-spacing="0.7">1.0</text>
<text x="258.21" y="565.95" text-anchor="middle" letter-spacing="0.7">1.5</text>
<text x="441.58" y="565.95" text-anchor="middle" letter-spacing="0.7">2.0</text>
<text x="624.94" y="565.95" text-anchor="middle" letter-spacing="0.7">2.5</text>
<text x="808.3" y="565.95" text-anchor="middle" letter-spacing="0.7">3.0</text>
<path d="M90.7,1132.5 v9.3 M90.7,625.5 v-9.3 M180.36,1132.5 v6.4 M180.36,625.5 v-6.4 M270.01,1132.5 v9.3 M270.01,625.5 v-9.3 M359.67,1132.5 v6.4 M359.67,625.5 v-6.4 M449.32,1132.5 v9.3 M449.32,625.5 v-9.3 M538.98,1132.5 v6.4 M538.98,625.5 v-6.4 M628.64,1132.5 v9.3 M628.64,625.5 v-9.3 M718.29,1132.5 v6.4 M718.29,625.5 v-6.4 M807.95,1132.5 v9.3 M807.95,625.5 v-9.3" stroke="#000" stroke-width="1.2" fill="none"/>
<text x="91.05" y="1168.3" text-anchor="middle" letter-spacing="0.7">1.0</text>
<text x="270.36" y="1168.3" text-anchor="middle" letter-spacing="0.7">1.5</text>
<text x="449.68" y="1168.3" text-anchor="middle" letter-spacing="0.7">2.0</text>
<text x="628.99" y="1168.3" text-anchor="middle" letter-spacing="0.7">2.5</text>
<text x="808.3" y="1168.3" text-anchor="middle" letter-spacing="0.7">3.0</text>
<path d="M85.7,1736.6 v9.3 M85.7,1226.25 v-9.3 M175.98,1736.6 v6.4 M175.98,1226.25 v-6.4 M266.26,1736.6 v9.3 M266.26,1226.25 v-9.3 M356.54,1736.6 v6.4 M356.54,1226.25 v-6.4 M446.82,1736.6 v9.3 M446.82,1226.25 v-9.3 M537.11,1736.6 v6.4 M537.11,1226.25 v-6.4 M627.39,1736.6 v9.3 M627.39,1226.25 v-9.3 M717.67,1736.6 v6.4 M717.67,1226.25 v-6.4 M807.95,1736.6 v9.3 M807.95,1226.25 v-9.3" stroke="#000" stroke-width="1.2" fill="none"/>
<text x="86.05" y="1772.4" text-anchor="middle" letter-spacing="0.7">1.0</text>
<text x="266.61" y="1772.4" text-anchor="middle" letter-spacing="0.7">1.5</text>
<text x="447.18" y="1772.4" text-anchor="middle" letter-spacing="0.7">2.0</text>
<text x="627.74" y="1772.4" text-anchor="middle" letter-spacing="0.7">2.5</text>
<text x="808.3" y="1772.4" text-anchor="middle" letter-spacing="0.7">3.0</text>
<path d="M74.5,530.15 h-9.3 M807.95,530.15 h9.3 M74.5,478.29 h-6.4 M807.95,478.29 h6.4 M74.5,426.43 h-9.3 M807.95,426.43 h9.3 M74.5,374.57 h-6.4 M807.95,374.57 h6.4 M74.5,322.71 h-9.3 M807.95,322.71 h9.3 M74.5,270.85 h-6.4 M807.95,270.85 h6.4 M74.5,218.99 h-9.3 M807.95,218.99 h9.3 M74.5,167.13 h-6.4 M807.95,167.13 h6.4 M74.5,115.27 h-9.3 M807.95,115.27 h9.3 M74.5,63.41 h-6.4 M807.95,63.41 h6.4 M74.5,11.55 h-9.3 M807.95,11.55 h9.3" stroke="#000" stroke-width="1.2" fill="none"/>
<text x="56.9" y="539.45" text-anchor="end">0</text>
<text x="56.9" y="435.73" text-anchor="end">10</text>
<text x="56.9" y="332.01" text-anchor="end">20</text>
<text x="56.9" y="228.29" text-anchor="end">30</text>
<text x="56.9" y="124.57" text-anchor="end">40</text>
<text x="56.9" y="20.85" text-anchor="end">50</text>
<path d="M90.7,1132.5 h-9.3 M807.95,1132.5 h9.3 M90.7,1101.98 h-6.4 M807.95,1101.98 h6.4 M90.7,1084.12 h-6.4 M807.95,1084.12 h6.4 M90.7,1071.45 h-6.4 M807.95,1071.45 h6.4 M90.7,1061.62 h-6.4 M807.95,1061.62 h6.4 M90.7,1053.6 h-6.4 M807.95,1053.6 h6.4 M90.7,1046.81 h-6.4 M807.95,1046.81 h6.4 M90.7,1040.93 h-6.4 M807.95,1040.93 h6.4 M90.7,1035.74 h-6.4 M807.95,1035.74 h6.4 M90.7,1031.1 h-9.3 M807.95,1031.1 h9.3 M90.7,1000.58 h-6.4 M807.95,1000.58 h6.4 M90.7,982.72 h-6.4 M807.95,982.72 h6.4 M90.7,970.05 h-6.4 M807.95,970.05 h6.4 M90.7,960.22 h-6.4 M807.95,960.22 h6.4 M90.7,952.2 h-6.4 M807.95,952.2 h6.4 M90.7,945.41 h-6.4 M807.95,945.41 h6.4 M90.7,939.53 h-6.4 M807.95,939.53 h6.4 M90.7,934.34 h-6.4 M807.95,934.34 h6.4 M90.7,929.7 h-9.3 M807.95,929.7 h9.3 M90.7,899.18 h-6.4 M807.95,899.18 h6.4 M90.7,881.32 h-6.4 M807.95,881.32 h6.4 M90.7,868.65 h-6.4 M807.95,868.65 h6.4 M90.7,858.82 h-6.4 M807.95,858.82 h6.4 M90.7,850.8 h-6.4 M807.95,850.8 h6.4 M90.7,844.01 h-6.4 M807.95,844.01 h6.4 M90.7,838.13 h-6.4 M807.95,838.13 h6.4 M90.7,832.94 h-6.4 M807.95,832.94 h6.4 M90.7,828.3 h-9.3 M807.95,828.3 h9.3 M90.7,797.78 h-6.4 M807.95,797.78 h6.4 M90.7,779.92 h-6.4 M807.95,779.92 h6.4 M90.7,767.25 h-6.4 M807.95,767.25 h6.4 M90.7,757.42 h-6.4 M807.95,757.42 h6.4 M90.7,749.4 h-6.4 M807.95,749.4 h6.4 M90.7,742.61 h-6.4 M807.95,742.61 h6.4 M90.7,736.73 h-6.4 M807.95,736.73 h6.4 M90.7,731.54 h-6.4 M807.95,731.54 h6.4 M90.7,726.9 h-9.3 M807.95,726.9 h9.3 M90.7,696.38 h-6.4 M807.95,696.38 h6.4 M90.7,678.52 h-6.4 M807.95,678.52 h6.4 M90.7,665.85 h-6.4 M807.95,665.85 h6.4 M90.7,656.02 h-6.4 M807.95,656.02 h6.4 M90.7,648 h-6.4 M807.95,648 h6.4 M90.7,641.21 h-6.4 M807.95,641.21 h6.4 M90.7,635.33 h-6.4 M807.95,635.33 h6.4 M90.7,630.14 h-6.4 M807.95,630.14 h6.4 M90.7,625.5 h-9.3 M807.95,625.5 h9.3" stroke="#000" stroke-width="1.2" fill="none"/>
<text x="73.5" y="1130.1" text-anchor="end" font-size="22.5" stroke="#000" stroke-width="0.3">0</text>
<text x="61.9" y="1141.2" text-anchor="end">10</text>
<text x="73.5" y="1028.7" text-anchor="end" font-size="22.5" stroke="#000" stroke-width="0.3">1</text>
<text x="61.9" y="1039.8" text-anchor="end">10</text>
<text x="73.5" y="927.3" text-anchor="end" font-size="22.5" stroke="#000" stroke-width="0.3">2</text>
<text x="61.9" y="938.4" text-anchor="end">10</text>
<text x="73.5" y="825.9" text-anchor="end" font-size="22.5" stroke="#000" stroke-width="0.3">3</text>
<text x="61.9" y="837" text-anchor="end">10</text>
<text x="73.5" y="724.5" text-anchor="end" font-size="22.5" stroke="#000" stroke-width="0.3">4</text>
<text x="61.9" y="735.6" text-anchor="end">10</text>
<text x="73.5" y="623.1" text-anchor="end" font-size="22.5" stroke="#000" stroke-width="0.3">5</text>
<text x="61.9" y="634.2" text-anchor="end">10</text>
<path d="M85.7,1736.6 h-9.3 M807.95,1736.6 h9.3 M85.7,1705.87 h-6.4 M807.95,1705.87 h6.4 M85.7,1687.9 h-6.4 M807.95,1687.9 h6.4 M85.7,1675.15 h-6.4 M807.95,1675.15 h6.4 M85.7,1665.26 h-6.4 M807.95,1665.26 h6.4 M85.7,1657.17 h-6.4 M807.95,1657.17 h6.4 M85.7,1650.34 h-6.4 M807.95,1650.34 h6.4 M85.7,1644.42 h-6.4 M807.95,1644.42 h6.4 M85.7,1639.2 h-6.4 M807.95,1639.2 h6.4 M85.7,1634.53 h-9.3 M807.95,1634.53 h9.3 M85.7,1603.8 h-6.4 M807.95,1603.8 h6.4 M85.7,1585.83 h-6.4 M807.95,1585.83 h6.4 M85.7,1573.08 h-6.4 M807.95,1573.08 h6.4 M85.7,1563.19 h-6.4 M807.95,1563.19 h6.4 M85.7,1555.1 h-6.4 M807.95,1555.1 h6.4 M85.7,1548.27 h-6.4 M807.95,1548.27 h6.4 M85.7,1542.35 h-6.4 M807.95,1542.35 h6.4 M85.7,1537.13 h-6.4 M807.95,1537.13 h6.4 M85.7,1532.46 h-9.3 M807.95,1532.46 h9.3 M85.7,1501.73 h-6.4 M807.95,1501.73 h6.4 M85.7,1483.76 h-6.4 M807.95,1483.76 h6.4 M85.7,1471.01 h-6.4 M807.95,1471.01 h6.4 M85.7,1461.12 h-6.4 M807.95,1461.12 h6.4 M85.7,1453.03 h-6.4 M807.95,1453.03 h6.4 M85.7,1446.2 h-6.4 M807.95,1446.2 h6.4 M85.7,1440.28 h-6.4 M807.95,1440.28 h6.4 M85.7,1435.06 h-6.4 M807.95,1435.06 h6.4 M85.7,1430.39 h-9.3 M807.95,1430.39 h9.3 M85.7,1399.66 h-6.4 M807.95,1399.66 h6.4 M85.7,1381.69 h-6.4 M807.95,1381.69 h6.4 M85.7,1368.94 h-6.4 M807.95,1368.94 h6.4 M85.7,1359.05 h-6.4 M807.95,1359.05 h6.4 M85.7,1350.96 h-6.4 M807.95,1350.96 h6.4 M85.7,1344.13 h-6.4 M807.95,1344.13 h6.4 M85.7,1338.21 h-6.4 M807.95,1338.21 h6.4 M85.7,1332.99 h-6.4 M807.95,1332.99 h6.4 M85.7,1328.32 h-9.3 M807.95,1328.32 h9.3 M85.7,1297.59 h-6.4 M807.95,1297.59 h6.4 M85.7,1279.62 h-6.4 M807.95,1279.62 h6.4 M85.7,1266.87 h-6.4 M807.95,1266.87 h6.4 M85.7,1256.98 h-6.4 M807.95,1256.98 h6.4 M85.7,1248.89 h-6.4 M807.95,1248.89 h6.4 M85.7,1242.06 h-6.4 M807.95,1242.06 h6.4 M85.7,1236.14 h-6.4 M807.95,1236.14 h6.4 M85.7,1230.92 h-6.4 M807.95,1230.92 h6.4 M85.7,1226.25 h-9.3 M807.95,1226.25 h9.3" stroke="#000" stroke-width="1.2" fill="none"/>
<text x="68.5" y="1734.2" text-anchor="end" font-size="22.5" stroke="#000" stroke-width="0.3">0</text>
<text x="56.9" y="1745.3" text-anchor="end">10</text>
<text x="68.5" y="1632.13" text-anchor="end" font-size="22.5" stroke="#000" stroke-width="0.3">1</text>
<text x="56.9" y="1643.23" text-anchor="end">10</text>
<text x="68.5" y="1530.06" text-anchor="end" font-size="22.5" stroke="#000" stroke-width="0.3">2</text>
<text x="56.9" y="1541.16" text-anchor="end">10</text>
<text x="68.5" y="1427.99" text-anchor="end" font-size="22.5" stroke="#000" stroke-width="0.3">3</text>
<text x="56.9" y="1439.09" text-anchor="end">10</text>
<text x="68.5" y="1325.92" text-anchor="end" font-size="22.5" stroke="#000" stroke-width="0.3">4</text>
<text x="56.9" y="1337.02" text-anchor="end">10</text>
<text x="68.5" y="1223.85" text-anchor="end" font-size="22.5" stroke="#000" stroke-width="0.3">5</text>
<text x="56.9" y="1234.95" text-anchor="end">10</text>
<line x1="384.9" y1="34.9" x2="462.4" y2="34.9" stroke="#1c00ea" stroke-width="3.3"/>
<text transform="translate(479.5,43.9) scale(0.925,1)">M</text>
<text x="506.7" y="50.7" font-size="18" font-weight="normal" stroke="#000" stroke-width="0.25">1</text>
<path d="M526.6,33.3 h14.6 M526.6,39.6 h14.6" stroke="#000" stroke-width="2.4" fill="none"/>
<text x="560.3" y="43.9" letter-spacing="0.75">  1.1</text>
<line x1="384.9" y1="62.7" x2="462.4" y2="62.7" stroke="#0030ff" stroke-width="3.3"/>
<text transform="translate(479.5,71.7) scale(0.925,1)">M</text>
<text x="506.7" y="78.5" font-size="18" font-weight="normal" stroke="#000" stroke-width="0.25">1</text>
<path d="M526.6,61.1 h14.6 M526.6,67.4 h14.6" stroke="#000" stroke-width="2.4" fill="none"/>
<text x="560.3" y="71.7" letter-spacing="0.75">  2.5</text>
<line x1="384.9" y1="90.5" x2="462.4" y2="90.5" stroke="#0086ff" stroke-width="3.3"/>
<text transform="translate(479.5,99.5) scale(0.925,1)">M</text>
<text x="506.7" y="106.3" font-size="18" font-weight="normal" stroke="#000" stroke-width="0.25">1</text>
<path d="M526.6,88.9 h14.6 M526.6,95.2 h14.6" stroke="#000" stroke-width="2.4" fill="none"/>
<text x="560.3" y="99.5" letter-spacing="0.75">  3.0</text>
<line x1="384.9" y1="118.3" x2="462.4" y2="118.3" stroke="#00e0ff" stroke-width="3.3"/>
<text transform="translate(479.5,127.3) scale(0.925,1)">M</text>
<text x="506.7" y="134.1" font-size="18" font-weight="normal" stroke="#000" stroke-width="0.25">1</text>
<path d="M526.6,116.7 h14.6 M526.6,123 h14.6" stroke="#000" stroke-width="2.4" fill="none"/>
<text x="560.3" y="127.3" letter-spacing="0.75">  5.0</text>
<line x1="384.9" y1="146.1" x2="462.4" y2="146.1" stroke="#00fcc0" stroke-width="3.3"/>
<text transform="translate(479.5,155.1) scale(0.925,1)">M</text>
<text x="506.7" y="161.9" font-size="18" font-weight="normal" stroke="#000" stroke-width="0.25">1</text>
<path d="M526.6,144.5 h14.6 M526.6,150.8 h14.6" stroke="#000" stroke-width="2.4" fill="none"/>
<text x="560.3" y="155.1" letter-spacing="0.75">  7.5</text>
<line x1="384.9" y1="173.9" x2="462.4" y2="173.9" stroke="#00fc28" stroke-width="3.3"/>
<text transform="translate(479.5,182.9) scale(0.925,1)">M</text>
<text x="506.7" y="189.7" font-size="18" font-weight="normal" stroke="#000" stroke-width="0.25">1</text>
<path d="M526.6,172.3 h14.6 M526.6,178.6 h14.6" stroke="#000" stroke-width="2.4" fill="none"/>
<text x="560.3" y="182.9" letter-spacing="0.75"> 10.0</text>
<line x1="384.9" y1="201.7" x2="462.4" y2="201.7" stroke="#5cfc00" stroke-width="3.3"/>
<text transform="translate(479.5,210.7) scale(0.925,1)">M</text>
<text x="506.7" y="217.5" font-size="18" font-weight="normal" stroke="#000" stroke-width="0.25">1</text>
<path d="M526.6,200.1 h14.6 M526.6,206.4 h14.6" stroke="#000" stroke-width="2.4" fill="none"/>
<text x="560.3" y="210.7" letter-spacing="0.75"> 25.0</text>
<line x1="384.9" y1="229.5" x2="462.4" y2="229.5" stroke="#c0ff00" stroke-width="3.3"/>
<text transform="translate(479.5,238.5) scale(0.925,1)">M</text>
<text x="506.7" y="245.3" font-size="18" font-weight="normal" stroke="#000" stroke-width="0.25">1</text>
<path d="M526.6,227.9 h14.6 M526.6,234.2 h14.6" stroke="#000" stroke-width="2.4" fill="none"/>
<text x="560.3" y="238.5" letter-spacing="0.75"> 50.0</text>
<line x1="384.9" y1="257.3" x2="462.4" y2="257.3" stroke="#ffdc00" stroke-width="3.3"/>
<text transform="translate(479.5,266.3) scale(0.925,1)">M</text>
<text x="506.7" y="273.1" font-size="18" font-weight="normal" stroke="#000" stroke-width="0.25">1</text>
<path d="M526.6,255.7 h14.6 M526.6,262 h14.6" stroke="#000" stroke-width="2.4" fill="none"/>
<text x="560.3" y="266.3" letter-spacing="0.75">100.0</text>
<line x1="384.9" y1="285.1" x2="462.4" y2="285.1" stroke="#ff8000" stroke-width="3.3"/>
<text transform="translate(479.5,294.1) scale(0.925,1)">M</text>
<text x="506.7" y="300.9" font-size="18" font-weight="normal" stroke="#000" stroke-width="0.25">1</text>
<path d="M526.6,283.5 h14.6 M526.6,289.8 h14.6" stroke="#000" stroke-width="2.4" fill="none"/>
<text x="560.3" y="294.1" letter-spacing="0.75">250.0</text>
<text transform="translate(17.3,276.6) rotate(-90)" font-size="31.5">s</text>
</g>
<g transform="translate(425.9,583.1)" fill="none" stroke="#000" stroke-linecap="round">
<path d="M-0.1,3.5 C1.2,1.0 3.2,-0.15 5.1,-0.1 C7.7,0 9.5,3.2 10.5,9.5 L7.1,19.3 Q5.6,19.9 4.5,18.5 L8.8,10.3 C8.3,5.6 7.2,2.3 4.9,2.0 C3.3,1.9 1.7,2.7 0.6,4.0 Z" fill="#000" stroke="none"/>
<path d="M15.75,0.25 L10.0,10.2" stroke-width="1.35" stroke-linecap="butt"/>
</g>
<text transform="translate(446.5,602.1) scale(0.94,0.95)" font-family='"Liberation Serif", serif' font-weight="bold" font-size="18">2</text>
<g transform="translate(434.9,1184)" fill="none" stroke="#000" stroke-linecap="round">
<path d="M-0.1,3.5 C1.2,1.0 3.2,-0.15 5.1,-0.1 C7.7,0 9.5,3.2 10.5,9.5 L7.1,19.3 Q5.6,19.9 4.5,18.5 L8.8,10.3 C8.3,5.6 7.2,2.3 4.9,2.0 C3.3,1.9 1.7,2.7 0.6,4.0 Z" fill="#000" stroke="none"/>
<path d="M15.75,0.25 L10.0,10.2" stroke-width="1.35" stroke-linecap="butt"/>
</g>
<text transform="translate(455.5,1203) scale(0.94,0.95)" font-family='"Liberation Serif", serif' font-weight="bold" font-size="18">2</text>
<g transform="translate(431.9,1788.8)" fill="none" stroke="#000" stroke-linecap="round">
<path d="M-0.1,3.5 C1.2,1.0 3.2,-0.15 5.1,-0.1 C7.7,0 9.5,3.2 10.5,9.5 L7.1,19.3 Q5.6,19.9 4.5,18.5 L8.8,10.3 C8.3,5.6 7.2,2.3 4.9,2.0 C3.3,1.9 1.7,2.7 0.6,4.0 Z" fill="#000" stroke="none"/>
<path d="M15.75,0.25 L10.0,10.2" stroke-width="1.35" stroke-linecap="butt"/>
</g>
<text transform="translate(452.5,1807.8) scale(0.94,0.95)" font-family='"Liberation Serif", serif' font-weight="bold" font-size="18">2</text>
<g transform="translate(0,850) scale(0.060533)" fill="none" stroke="#000" stroke-linecap="round" stroke-linejoin="round">
<path d="M54,442 C62,482 86,500 106,480 C121,464 125,420 125,388" stroke-width="19"/>
<path d="M125,388 C125,450 135,518 185,528 C225,534 246,500 250,418" stroke-width="27"/>
<path d="M250,418 C250,482 262,562 318,566 C366,568 380,482 400,452 C414,432 442,440 444,476" stroke-width="27"/>
<circle cx="442" cy="480" r="16" fill="#000" stroke="none"/>
</g>
<g transform="translate(0,1450) scale(0.060533)" fill="none" stroke="#000" stroke-linecap="round" stroke-linejoin="round">
<path d="M54,400 C120,422 170,470 210,520 C260,580 310,618 360,638" stroke-width="19"/>
<path d="M60,627 C50,592 62,572 92,560 C150,540 262,506 318,478 C346,462 357,446 358,417" stroke-width="27"/>
</g>
</svg>
</body></html>
